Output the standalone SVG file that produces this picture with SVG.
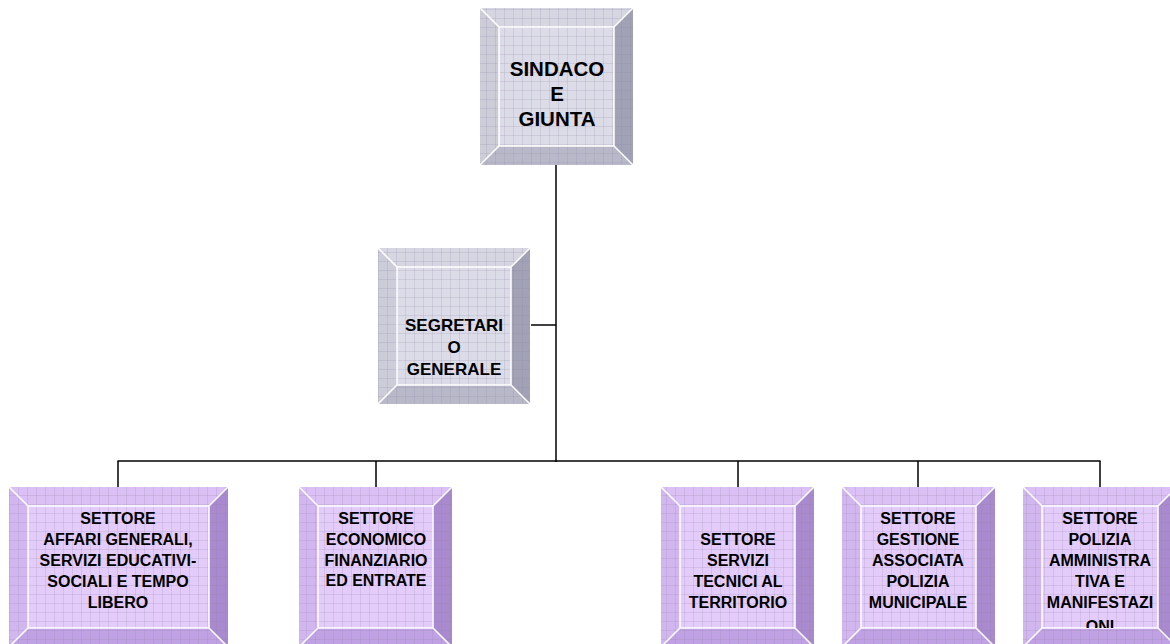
<svg xmlns="http://www.w3.org/2000/svg" width="1170" height="644" viewBox="0 0 1170 644">
<defs>
<pattern id="grid" x="0" y="0" width="9" height="9" patternUnits="userSpaceOnUse">
<path d="M0 0.5H9M0.5 0V9" stroke="#8a80a0" stroke-width="0.7" stroke-opacity="0.28" fill="none"/>
</pattern>
<clipPath id="c5"><rect x="1042" y="506" width="116" height="122"/></clipPath>
</defs>
<style>
.g .t{fill:#d6d6e2}.g .l{fill:#cdcdda}.g .r{fill:#a2a2b6}.g .b{fill:#b8b8c8}.g .f{fill:#dcdce8}
.p .t{fill:#dac0f4}.p .l{fill:#d2b6f0}.p .r{fill:#aa8ace}.p .b{fill:#c0a2e4}.p .f{fill:#e4ccfa}
.grid{fill:url(#grid)}
.hl{fill:none;stroke:#ffffff;stroke-width:1.5}
text{font-family:"Liberation Sans",Arial,sans-serif;font-weight:700;fill:#000;text-anchor:middle}
.big{font-size:20.5px}.mid{font-size:17px}.sm{font-size:16px}
.conn line{stroke:#000;stroke-width:1.5}
</style>
<g class="conn">
<line x1="556" y1="165" x2="556" y2="462"/>
<line x1="531" y1="325" x2="556" y2="325"/>
<line x1="117.5" y1="461" x2="1100.5" y2="461"/>
<line x1="118" y1="461" x2="118" y2="487"/>
<line x1="376" y1="461" x2="376" y2="487"/>
<line x1="738" y1="461" x2="738" y2="487"/>
<line x1="918" y1="461" x2="918" y2="487"/>
<line x1="1100" y1="461" x2="1100" y2="487"/>
</g>
<g id="sindaco" class="g">
<polygon class="t" points="480,8 633,8 614,27 499,27"/>
<polygon class="l" points="480,8 499,27 499,146 480,165"/>
<polygon class="r" points="633,8 633,165 614,146 614,27"/>
<polygon class="b" points="480,165 633,165 614,146 499,146"/>
<rect class="f" x="499" y="27" width="115" height="119"/>
<rect class="grid" x="480" y="8" width="153" height="157"/>
<path class="hl" d="M480,8L499,27M633,8L614,27M480,165L499,146M633,165L614,146M499,27H614V146H499Z"/>
<text class="big" x="557" y="76">SINDACO</text>
<text class="big" x="557" y="101">E</text>
<text class="big" x="557" y="126">GIUNTA</text>
</g>
<g id="segretario" class="g">
<polygon class="t" points="378,248 530,248 511,267 397,267"/>
<polygon class="l" points="378,248 397,267 397,385 378,404"/>
<polygon class="r" points="530,248 530,404 511,385 511,267"/>
<polygon class="b" points="378,404 530,404 511,385 397,385"/>
<rect class="f" x="397" y="267" width="114" height="118"/>
<rect class="grid" x="378" y="248" width="152" height="156"/>
<path class="hl" d="M378,248L397,267M530,248L511,267M378,404L397,385M530,404L511,385M397,267H511V385H397Z"/>
<text class="mid" x="454" y="331">SEGRETARI</text>
<text class="mid" x="454" y="353">O</text>
<text class="mid" x="454" y="375">GENERALE</text>
</g>
<g id="settore1" class="p">
<polygon class="t" points="9,487 228,487 209,506 28,506"/>
<polygon class="l" points="9,487 28,506 28,628 9,647"/>
<polygon class="r" points="228,487 228,647 209,628 209,506"/>
<polygon class="b" points="9,647 228,647 209,628 28,628"/>
<rect class="f" x="28" y="506" width="181" height="122"/>
<rect class="grid" x="9" y="487" width="219" height="160"/>
<path class="hl" d="M9,487L28,506M228,487L209,506M9,647L28,628M228,647L209,628M28,506H209V628H28Z"/>
<text class="sm" x="118" y="524">SETTORE</text>
<text class="sm" x="118" y="545">AFFARI GENERALI,</text>
<text class="sm" x="118" y="566">SERVIZI EDUCATIVI-</text>
<text class="sm" x="118" y="587">SOCIALI E TEMPO</text>
<text class="sm" x="118" y="608">LIBERO</text>
</g>
<g id="settore2" class="p">
<polygon class="t" points="299,487 452,487 433,506 318,506"/>
<polygon class="l" points="299,487 318,506 318,628 299,647"/>
<polygon class="r" points="452,487 452,647 433,628 433,506"/>
<polygon class="b" points="299,647 452,647 433,628 318,628"/>
<rect class="f" x="318" y="506" width="115" height="122"/>
<rect class="grid" x="299" y="487" width="153" height="160"/>
<path class="hl" d="M299,487L318,506M452,487L433,506M299,647L318,628M452,647L433,628M318,506H433V628H318Z"/>
<text class="sm" x="376" y="524">SETTORE</text>
<text class="sm" x="376" y="545">ECONOMICO</text>
<text class="sm" x="376" y="566">FINANZIARIO</text>
<text class="sm" x="376" y="586">ED ENTRATE</text>
</g>
<g id="settore3" class="p">
<polygon class="t" points="661,487 814,487 795,506 680,506"/>
<polygon class="l" points="661,487 680,506 680,628 661,647"/>
<polygon class="r" points="814,487 814,647 795,628 795,506"/>
<polygon class="b" points="661,647 814,647 795,628 680,628"/>
<rect class="f" x="680" y="506" width="115" height="122"/>
<rect class="grid" x="661" y="487" width="153" height="160"/>
<path class="hl" d="M661,487L680,506M814,487L795,506M661,647L680,628M814,647L795,628M680,506H795V628H680Z"/>
<text class="sm" x="738" y="545">SETTORE</text>
<text class="sm" x="738" y="566">SERVIZI</text>
<text class="sm" x="738" y="587">TECNICI AL</text>
<text class="sm" x="738" y="608">TERRITORIO</text>
</g>
<g id="settore4" class="p">
<polygon class="t" points="842,487 995,487 976,506 861,506"/>
<polygon class="l" points="842,487 861,506 861,628 842,647"/>
<polygon class="r" points="995,487 995,647 976,628 976,506"/>
<polygon class="b" points="842,647 995,647 976,628 861,628"/>
<rect class="f" x="861" y="506" width="115" height="122"/>
<rect class="grid" x="842" y="487" width="153" height="160"/>
<path class="hl" d="M842,487L861,506M995,487L976,506M842,647L861,628M995,647L976,628M861,506H976V628H861Z"/>
<text class="sm" x="918" y="524">SETTORE</text>
<text class="sm" x="918" y="545">GESTIONE</text>
<text class="sm" x="918" y="566">ASSOCIATA</text>
<text class="sm" x="918" y="587">POLIZIA</text>
<text class="sm" x="918" y="608">MUNICIPALE</text>
</g>
<g id="settore5" class="p">
<polygon class="t" points="1023,487 1177,487 1158,506 1042,506"/>
<polygon class="l" points="1023,487 1042,506 1042,628 1023,647"/>
<polygon class="r" points="1177,487 1177,647 1158,628 1158,506"/>
<polygon class="b" points="1023,647 1177,647 1158,628 1042,628"/>
<rect class="f" x="1042" y="506" width="116" height="122"/>
<rect class="grid" x="1023" y="487" width="154" height="160"/>
<path class="hl" d="M1023,487L1042,506M1177,487L1158,506M1023,647L1042,628M1177,647L1158,628M1042,506H1158V628H1042Z"/>
<g clip-path="url(#c5)">
<text class="sm" x="1100" y="524">SETTORE</text>
<text class="sm" x="1100" y="545">POLIZIA</text>
<text class="sm" x="1100" y="566">AMMINISTRA</text>
<text class="sm" x="1100" y="587">TIVA E</text>
<text class="sm" x="1100" y="608">MANIFESTAZI</text>
<text class="sm" x="1100" y="632">ONI</text>
</g>
</g>
</svg>
